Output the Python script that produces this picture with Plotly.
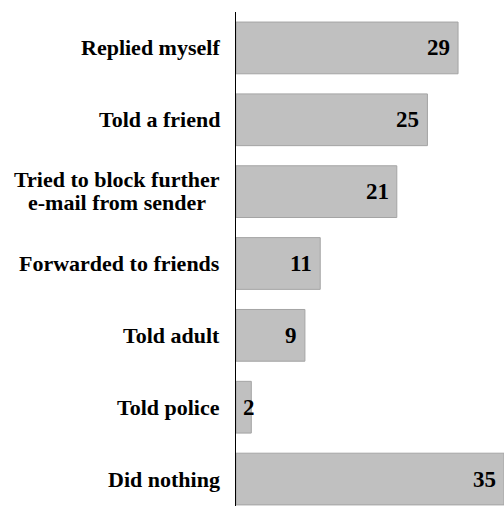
import plotly.graph_objects as go

categories = [
    "Replied myself",
    "Told a friend",
    "Tried to block further e-mail from sender",
    "Forwarded to friends",
    "Told adult",
    "Told police",
    "Did nothing",
]
label_lines = [
    ["Replied myself"],
    ["Told a friend"],
    ["Tried to block further", "e-mail from sender"],
    ["Forwarded to friends"],
    ["Told adult"],
    ["Told police"],
    ["Did nothing"],
]
values = [29, 25, 21, 11, 9, 2, 35]

serif = "Liberation Serif"
x_max = 35

fig = go.Figure()
fig.add_trace(go.Bar(
    x=values,
    y=categories,
    orientation="h",
    width=0.72,
    marker=dict(color="#c0c0c0", line=dict(color="#a4a4a4", width=1)),
    hoverinfo="skip",
))

# value labels at the inner end of each bar
for c, v in zip(categories, values):
    if v >= 4:
        fig.add_annotation(x=v, y=c, text=f"<b>{v}</b>", showarrow=False,
                           xanchor="right", xshift=-6,
                           font=dict(family=serif, size=23, color="black"))
    else:
        fig.add_annotation(x=0, y=c, text=f"<b>{v}</b>", showarrow=False,
                           xanchor="left", xshift=5,
                           font=dict(family=serif, size=23, color="black"))

# category labels (two-line one centred, tighter line spacing)
for c, lines in zip(categories, label_lines):
    if len(lines) == 1:
        fig.add_annotation(x=0, xref="paper", y=c, text="<b>" + lines[0] + "</b>",
                           showarrow=False, xanchor="right", xshift=-14,
                           font=dict(family=serif, size=22, color="black"))
    else:
        fig.add_annotation(x=0, xref="paper", y=c, text="<b>" + lines[0] + "</b>",
                           showarrow=False, xanchor="right", xshift=-14, yshift=12,
                           font=dict(family=serif, size=22, color="black"))
        fig.add_annotation(x=0, xref="paper", y=c, text="<b>" + lines[1] + "</b>",
                           showarrow=False, xanchor="right", xshift=-28, yshift=-11,
                           font=dict(family=serif, size=22, color="black"))

fig.update_layout(
    width=504, height=506,
    margin=dict(l=236, r=0, t=12, b=0),
    plot_bgcolor="white", paper_bgcolor="white",
    showlegend=False,
)
fig.update_xaxes(range=[0, x_max], showgrid=False, zeroline=False,
                 showticklabels=False, ticks="")
fig.update_yaxes(type="category", categoryorder="array", categoryarray=categories,
                 range=[6.375, -0.5], showgrid=False, showticklabels=False,
                 showline=True, linecolor="black", linewidth=1, ticks="")

fig.write_html("out.html", config={"displayModeBar": False},
               post_script="document.body.style.margin='0';")
